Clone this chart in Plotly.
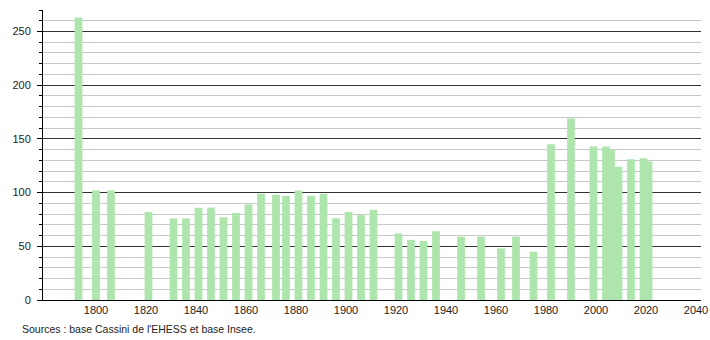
import plotly.graph_objects as go

years = [1793, 1800, 1806, 1821, 1831, 1836, 1841, 1846, 1851, 1856, 1861, 1866,
         1872, 1876, 1881, 1886, 1891, 1896, 1901, 1906, 1911, 1921, 1926, 1931,
         1936, 1946, 1954, 1962, 1968, 1975, 1982, 1990, 1999, 2004, 2006, 2009,
         2014, 2019, 2021]
population = [263, 102, 102, 82, 76, 76, 86, 86, 77, 81, 89, 99,
              98, 97, 102, 97, 99, 76, 82, 79, 84, 62, 56, 55,
              64, 59, 59, 48, 59, 45, 145, 169, 143, 143, 140, 124,
              131, 132, 129]
x_ticks = [1800, 1820, 1840, 1860, 1880, 1900, 1920, 1940, 1960, 1980, 2000, 2020, 2040]
y_ticks = [0, 50, 100, 150, 200, 250]
source_text = "Sources : base Cassini de l'EHESS et base Insee."

fig = go.Figure()
fig.add_trace(go.Bar(
    x=years, y=population, width=3.1,
    marker=dict(color="#ade5ad", line=dict(width=0)),
    hoverinfo="x+y",
))

font = "Liberation Sans, Arial, sans-serif"
fig.update_layout(
    width=710, height=340,
    margin=dict(l=43, r=9, t=10, b=40),
    paper_bgcolor="white", plot_bgcolor="white",
    showlegend=False,
    font=dict(family=font, size=11, color="#222"),
    xaxis=dict(
        range=[1778.8, 2042], tickmode="array", tickvals=x_ticks,
        showgrid=False, zeroline=False, automargin=False,
        showline=True, linecolor="black", linewidth=1,
        ticks="", ticklen=0, tickfont=dict(size=11, family=font, color="#222"),
    ),
    yaxis=dict(
        range=[0, 270], tickmode="array", tickvals=y_ticks,
        showgrid=True, gridcolor="#333", gridwidth=1,
        zeroline=False, automargin=False,
        showline=True, linecolor="black", linewidth=1,
        ticks="outside", ticklen=5, tickcolor="black", ticklabelstandoff=4,
        tickfont=dict(size=11, family=font, color="#222"),
        minor=dict(dtick=10, tick0=0, showgrid=True, gridcolor="#c8c8c8",
                   gridwidth=1, ticks="outside", ticklen=3, tickcolor="black"),
    ),
    annotations=[dict(
        text=source_text, xref="paper", yref="paper",
        x=-23/658, y=-21/290, xanchor="left", yanchor="top",
        showarrow=False, font=dict(size=10.5, family=font, color="#222"),
    )],
)
fig.write_html("out.html")
